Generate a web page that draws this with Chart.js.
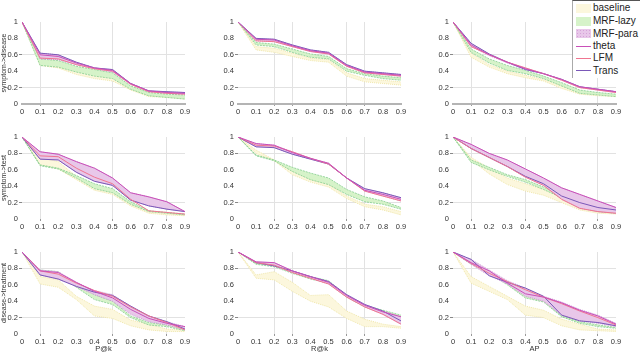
<!DOCTYPE html>
<html>
<head>
<meta charset="utf-8">
<script src="https://cdn.jsdelivr.net/npm/chart.js@4"></script>
<style>
body { margin: 0; width: 640px; height: 353px; position: relative; overflow: hidden; background: #fff; font-family: "Liberation Sans", Arial, sans-serif; }
canvas { position: absolute; }
#legend { position: absolute; left: 572px; top: 0; width: 80px; height: 77px; background: #fff; border-top: 1px solid #555; border-left: 1px solid #aaa; z-index: 2; }
#legend .row { position: absolute; left: 0; height: 12px; line-height: 12px; font-size: 10px; color: #222; white-space: nowrap; }
#legend .sw { position: absolute; left: 3px; width: 15px; }
#legend .txt { position: absolute; left: 20px; top: 0; }
</style>
</head>
<body>
<div id="legend"></div>
<script>
// оси
const xs = [0, 0.1, 0.2, 0.3, 0.4, 0.5, 0.6, 0.7, 0.8, 0.9];
const rowNames = ['symptom->disease', 'symptom->test', 'disease->treatment'];
const colNames = ['P@k', 'R@k', 'AP'];
const seriesNames = ['baseline', 'MRF-lazy', 'MRF-para', 'theta', 'LFM', 'Trans'];

// symptom->disease, P@k
const sdP_baseLo = [1, .47, .44, .36, .31, .28, .17, .09, .08, .06];
const sdP_baseHi = [1, .50, .48, .42, .38, .35, .20, .12, .10, .09];
const sdP_lazyLo = [1, .47, .45, .39, .34, .31, .18, .10, .08, .06];
const sdP_lazyHi = [1, .55, .53, .46, .42, .38, .22, .14, .12, .11];
const sdP_paraLo = [1, .55, .54, .48, .43, .39, .24, .15, .13, .12];
const sdP_paraHi = [1, .62, .60, .51, .44, .42, .25, .16, .15, .14];
const sdP_theta  = [1, .60, .58, .50, .44, .41, .25, .16, .14, .13];
const sdP_lfm    = [1, .56, .55, .48, .43, .40, .24, .15, .13, .12];
const sdP_trans  = [1, .62, .60, .51, .44, .42, .25, .16, .15, .14];

// symptom->disease, R@k
const sdR_baseLo = [1, .66, .63, .58, .53, .51, .34, .27, .25, .23];
const sdR_baseHi = [1, .70, .68, .62, .56, .54, .38, .31, .29, .27];
const sdR_lazyLo = [1, .72, .70, .63, .57, .55, .40, .35, .31, .29];
const sdR_lazyHi = [1, .75, .73, .67, .61, .58, .43, .37, .34, .32];
const sdR_paraLo = [1, .77, .76, .70, .64, .61, .46, .38, .36, .34];
const sdR_paraHi = [1, .80, .79, .72, .66, .63, .48, .40, .38, .36];
const sdR_theta  = [1, .79, .78, .71, .65, .62, .47, .39, .37, .35];
const sdR_lfm    = [1, .77, .76, .70, .64, .61, .46, .38, .36, .34];
const sdR_trans  = [1, .80, .79, .72, .66, .63, .48, .40, .38, .36];

// symptom->disease, AP
const sdA_baseLo = [1, .57, .45, .37, .32, .28, .19, .12, .10, .09];
const sdA_baseHi = [1, .62, .48, .40, .35, .30, .22, .15, .12, .11];
const sdA_lazyLo = [1, .63, .50, .41, .37, .31, .22, .13, .11, .09];
const sdA_lazyHi = [1, .67, .55, .47, .41, .34, .26, .17, .14, .12];
const sdA_paraLo = [1, .70, .59, .50, .42, .37, .29, .20, .17, .14];
const sdA_paraHi = [1, .74, .61, .51, .44, .37, .30, .21, .18, .15];
const sdA_theta  = [1, .72, .60, .51, .43, .37, .30, .21, .18, .15];
const sdA_lfm    = [1, .70, .60, .51, .44, .37, .29, .20, .17, .14];
const sdA_trans  = [1, .74, .61, .51, .42, .37, .30, .21, .18, .15];

// symptom->test, P@k
const stP_baseLo = [1, .66, .61, .48, .35, .30, .16, .07, .05, .04];
const stP_baseHi = [1, .75, .70, .52, .40, .33, .18, .09, .07, .05];
const stP_lazyLo = [1, .65, .61, .50, .37, .32, .18, .09, .07, .05];
const stP_lazyHi = [1, .66, .62, .53, .43, .37, .21, .10, .08, .06];
const stP_paraLo = [1, .73, .72, .57, .46, .41, .23, .16, .12, .09];
const stP_paraHi = [1, .82, .79, .70, .62, .50, .32, .27, .21, .09];
const stP_theta  = [1, .82, .79, .70, .62, .50, .32, .27, .21, .09];
const stP_lfm    = [1, .77, .76, .62, .51, .43, .24, .10, .08, .06];
const stP_trans  = [1, .73, .72, .57, .46, .41, .23, .16, .12, .09];

// symptom->test, R@k
const stR_baseLo = [1, .80, .71, .54, .45, .39, .25, .15, .11, .05];
const stR_baseHi = [1, .84, .72, .58, .48, .42, .28, .18, .15, .09];
const stR_lazyLo = [1, .77, .71, .58, .48, .42, .30, .21, .18, .12];
const stR_lazyHi = [1, .78, .72, .63, .56, .50, .36, .27, .22, .14];
const stR_paraLo = [1, .88, .87, .79, .73, .67, .50, .34, .28, .22];
const stR_paraHi = [1, .92, .90, .82, .74, .68, .50, .37, .32, .26];
const stR_theta  = [1, .92, .90, .81, .74, .68, .50, .35, .30, .24];
const stR_lfm    = [1, .90, .89, .82, .74, .67, .50, .34, .28, .22];
const stR_trans  = [1, .88, .87, .79, .73, .67, .50, .37, .32, .26];

// symptom->test, AP
const stA_baseLo = [1, .72, .55, .42, .34, .29, .20, .11, .07, .06];
const stA_baseHi = [1, .75, .62, .50, .43, .36, .27, .15, .10, .08];
const stA_lazyLo = [1, .69, .60, .52, .45, .36, .26, .14, .09, .07];
const stA_lazyHi = [1, .72, .63, .54, .48, .39, .28, .17, .10, .08];
const stA_paraLo = [1, .86, .75, .64, .51, .41, .24, .13, .09, .07];
const stA_paraHi = [1, .91, .80, .72, .61, .50, .38, .30, .22, .14];
const stA_theta  = [1, .91, .80, .72, .61, .50, .38, .30, .22, .14];
const stA_lfm    = [1, .86, .75, .64, .51, .41, .24, .13, .09, .07];
const stA_trans  = [1, .86, .75, .64, .52, .43, .28, .20, .14, .11];

// disease->treatment, P@k
const dtP_baseLo = [1, .61, .57, .42, .22, .19, .10, .05, .03, .03];
const dtP_baseHi = [1, .70, .66, .46, .34, .30, .17, .12, .06, .05];
const dtP_lazyLo = [1, .76, .72, .57, .42, .36, .20, .11, .09, .04];
const dtP_lazyHi = [1, .78, .76, .60, .48, .40, .22, .14, .11, .07];
const dtP_paraLo = [1, .72, .67, .58, .48, .40, .24, .15, .11, .05];
const dtP_paraHi = [1, .78, .76, .63, .53, .48, .34, .22, .15, .09];
const dtP_theta  = [1, .77, .75, .63, .52, .44, .30, .19, .13, .09];
const dtP_lfm    = [1, .77, .73, .62, .53, .46, .33, .22, .14, .05];
const dtP_trans  = [1, .72, .67, .58, .51, .47, .34, .22, .15, .06];

// disease->treatment, R@k
const dtR_baseLo = [1, .68, .66, .52, .40, .33, .19, .09, .09, .07];
const dtR_baseHi = [1, .72, .76, .63, .47, .48, .28, .18, .12, .09];
const dtR_lazyLo = [1, .85, .82, .74, .67, .62, .45, .33, .27, .20];
const dtR_lazyHi = [1, .86, .84, .76, .70, .65, .47, .35, .29, .23];
const dtR_paraLo = [1, .87, .83, .75, .68, .61, .45, .33, .24, .12];
const dtR_paraHi = [1, .88, .87, .77, .70, .64, .48, .36, .28, .21];
const dtR_theta  = [1, .88, .87, .77, .70, .63, .47, .35, .27, .21];
const dtR_lfm    = [1, .87, .84, .75, .68, .61, .45, .33, .24, .12];
const dtR_trans  = [1, .87, .83, .77, .70, .64, .48, .36, .28, .16];

// disease->treatment, AP
const dtA_baseLo = [1, .62, .52, .42, .23, .20, .10, .05, .04, .03];
const dtA_baseHi = [1, .70, .58, .46, .34, .29, .18, .12, .06, .05];
const dtA_lazyLo = [1, .85, .74, .60, .44, .39, .21, .13, .09, .07];
const dtA_lazyHi = [1, .86, .76, .62, .47, .41, .22, .15, .11, .08];
const dtA_paraLo = [1, .85, .71, .61, .46, .40, .23, .16, .13, .09];
const dtA_paraHi = [1, .91, .78, .65, .56, .46, .39, .30, .23, .13];
const dtA_theta  = [1, .87, .77, .62, .49, .45, .38, .29, .22, .12];
const dtA_lfm    = [1, .86, .74, .64, .54, .45, .37, .28, .20, .11];
const dtA_trans  = [1, .91, .71, .63, .56, .46, .23, .16, .14, .10];

// панели по строкам
const panels = [
    [
        [sdP_baseLo, sdP_baseHi, sdP_lazyLo, sdP_lazyHi, sdP_paraLo, sdP_paraHi, sdP_theta, sdP_lfm, sdP_trans],
        [sdR_baseLo, sdR_baseHi, sdR_lazyLo, sdR_lazyHi, sdR_paraLo, sdR_paraHi, sdR_theta, sdR_lfm, sdR_trans],
        [sdA_baseLo, sdA_baseHi, sdA_lazyLo, sdA_lazyHi, sdA_paraLo, sdA_paraHi, sdA_theta, sdA_lfm, sdA_trans]
    ],
    [
        [stP_baseLo, stP_baseHi, stP_lazyLo, stP_lazyHi, stP_paraLo, stP_paraHi, stP_theta, stP_lfm, stP_trans],
        [stR_baseLo, stR_baseHi, stR_lazyLo, stR_lazyHi, stR_paraLo, stR_paraHi, stR_theta, stR_lfm, stR_trans],
        [stA_baseLo, stA_baseHi, stA_lazyLo, stA_lazyHi, stA_paraLo, stA_paraHi, stA_theta, stA_lfm, stA_trans]
    ],
    [
        [dtP_baseLo, dtP_baseHi, dtP_lazyLo, dtP_lazyHi, dtP_paraLo, dtP_paraHi, dtP_theta, dtP_lfm, dtP_trans],
        [dtR_baseLo, dtR_baseHi, dtR_lazyLo, dtR_lazyHi, dtR_paraLo, dtR_paraHi, dtR_theta, dtR_lfm, dtR_trans],
        [dtA_baseLo, dtA_baseHi, dtA_lazyLo, dtA_lazyHi, dtA_paraLo, dtA_paraHi, dtA_theta, dtA_lfm, dtA_trans]
    ]
];

const colors = {
    baseFill: '#fcf7dd', baseEdge: '#ece29c',
    lazyFill: '#d6f3c9', lazyEdge: '#84cd8f',
    paraFill: '#e8c7e9', paraEdge: '#c38ccd',
    theta: '#c94fb8', lfm: '#f07590', trans: '#7a58b8'
};

// какие линии сетки видны (в десятых)
const gridX = [[1, 5, 8], [2, 3, 6, 7], [1, 4, 8]];
const gridY = [[2, 6], [2, 8], [2, 8]];

const plotLeft = [22, 238, 453];
const plotTop = [22, 137, 252];
const plotW = 163;
const plotH = 82;

function pts(arr) {
    return xs.map((x, i) => ({ x: x, y: arr[i] }));
}

function bandEdge(arr, edge, fill, dash, fillTo, order) {
    return {
        data: pts(arr),
        borderColor: edge,
        borderWidth: 0.8,
        borderDash: dash,
        backgroundColor: fill,
        fill: fillTo,
        order: order
    };
}

function line(arr, color) {
    return { data: pts(arr), borderColor: color, borderWidth: 1, fill: false, order: 0 };
}

function gridColor(list, on) {
    return ctx => {
        if (!ctx.tick) return 'rgba(0,0,0,0)';
        return list.includes(Math.round(ctx.tick.value * 10)) ? on : 'rgba(0,0,0,0)';
    };
}

function makePanel(r, c) {
    const s = panels[r][c];
    const yW = c === 0 ? 22 : 26;
    const xH = r === 2 ? 19 : 16;
    const canvas = document.createElement('canvas');
    const w = yW + plotW + 8;
    const h = 6 + plotH + xH;
    canvas.width = w;
    canvas.height = h;
    canvas.style.left = (plotLeft[c] - yW) + 'px';
    canvas.style.top = (plotTop[r] - 6) + 'px';
    canvas.style.width = w + 'px';
    canvas.style.height = h + 'px';
    document.body.appendChild(canvas);

    const font = { family: '"Liberation Sans", Arial, sans-serif', size: 7.5 };

    new Chart(canvas.getContext('2d'), {
        type: 'line',
        data: {
            datasets: [
                bandEdge(s[0], colors.baseEdge, colors.baseFill, [1, 1], false, 3),
                bandEdge(s[1], colors.baseEdge, colors.baseFill, [1, 1], '-1', 3),
                bandEdge(s[2], colors.lazyEdge, colors.lazyFill, [2, 1], false, 2),
                bandEdge(s[3], colors.lazyEdge, colors.lazyFill, [2, 1], '-1', 2),
                bandEdge(s[4], colors.paraEdge, colors.paraFill, [1, 1], false, 1),
                bandEdge(s[5], colors.paraEdge, colors.paraFill, [1, 1], '-1', 1),
                line(s[6], colors.theta),
                line(s[7], colors.lfm),
                line(s[8], colors.trans)
            ]
        },
        options: {
            responsive: false,
            animation: false,
            devicePixelRatio: 1,
            layout: { padding: { top: 6, right: 8, left: 0, bottom: 0 } },
            elements: { point: { radius: 0 }, line: { tension: 0 } },
            plugins: { legend: { display: false }, tooltip: { enabled: false } },
            scales: {
                x: {
                    type: 'linear',
                    min: 0,
                    max: 0.9,
                    afterFit: sc => { sc.height = xH; },
                    border: r === 0 ? { display: true, color: '#b4b4b4', width: 2 } : { display: false },
                    grid: {
                        color: gridColor(gridX[c], '#e2e2e2'),
                        tickColor: gridColor(gridX[c], '#999'),
                        tickLength: 2
                    },
                    ticks: {
                        stepSize: 0.1,
                        autoSkip: false,
                        maxRotation: 0,
                        padding: 1,
                        color: '#333',
                        font: font,
                        callback: v => String(+v.toFixed(1))
                    },
                    title: {
                        display: r === 2,
                        text: colNames[c],
                        color: '#333',
                        font: font,
                        padding: 0
                    }
                },
                y: {
                    min: 0,
                    max: 1,
                    afterFit: sc => { sc.width = yW; },
                    border: { display: false },
                    grid: {
                        color: gridColor(gridY[r], '#e2e2e2'),
                        tickColor: gridColor(gridY[r], '#888'),
                        tickLength: 3
                    },
                    ticks: {
                        stepSize: 0.2,
                        padding: 1,
                        color: '#333',
                        font: font,
                        callback: v => String(+v.toFixed(1))
                    },
                    title: {
                        display: c === 0,
                        text: rowNames[r],
                        color: '#333',
                        font: { family: font.family, size: 7 },
                        padding: { top: 0, bottom: 0 }
                    }
                }
            }
        }
    });
}

for (let r = 0; r < 3; r++) {
    for (let c = 0; c < 3; c++) {
        makePanel(r, c);
    }
}

// легенда
function renderLegend() {
    const legend = document.getElementById('legend');
    const rowsY = [7, 20, 32.5, 45, 57, 69.5];
    const swatches = [
        `background:${colors.baseFill};height:9px;top:1.5px;`,
        `background:${colors.lazyFill};height:9px;top:1.5px;`,
        `background-color:${colors.paraFill};background-image:radial-gradient(#d6a2d8 0.6px, transparent 0.8px);background-size:3px 3px;height:9px;top:1.5px;`,
        `background:${colors.theta};height:1.2px;top:5.5px;`,
        `background:${colors.lfm};height:1.2px;top:5.5px;`,
        `background:${colors.trans};height:1.2px;top:5.5px;`
    ];
    seriesNames.forEach((name, i) => {
        const row = document.createElement('div');
        row.className = 'row';
        row.style.top = (rowsY[i] - 6) + 'px';
        row.innerHTML = `<span class="sw" style="${swatches[i]}"></span><span class="txt">${name}</span>`;
        legend.appendChild(row);
    });
}

renderLegend();
</script>
</body>
</html>
